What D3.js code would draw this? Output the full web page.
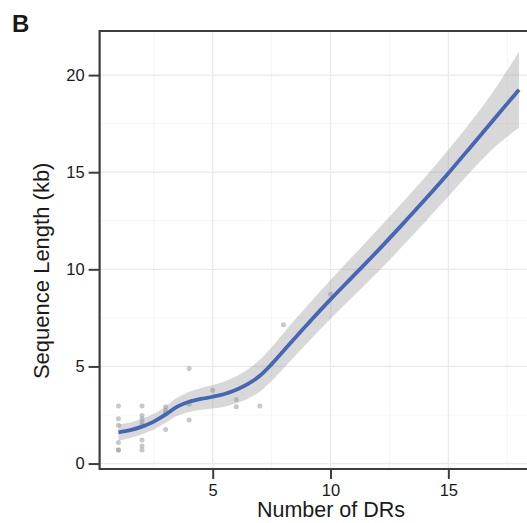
<!DOCTYPE html>
<html>
<head>
<meta charset="utf-8">
<script src="https://cdn.jsdelivr.net/npm/d3@7"></script>
<style>
  html, body { margin: 0; padding: 0; background: #ffffff; }
  svg { display: block; }
  text { font-family: "Liberation Sans", Arial, Helvetica, sans-serif; fill: #1a1a1a; }
</style>
</head>
<body>
<svg id="chart" width="527" height="523"></svg>
<script>
// ---- data ----
const pointX = [1,1,1,1,1,1, 2,2,2,2,2,2,2,2, 3,3,3,3, 4,4,4, 5, 6,6, 7, 8, 10];
const pointY = [2.96,2.31,1.97,1.09,0.70,0.70, 2.96,2.48,2.31,2.14,1.97,1.21,0.90,0.70, 2.92,2.75,2.62,1.76, 4.90,3.05,2.24, 3.78, 3.30,2.92, 2.96, 7.15, 8.73];

const fitX  = [1, 1.5, 2, 2.5, 3, 3.5, 4, 4.5, 5, 5.5, 6, 6.5, 7, 7.5, 8, 9, 10, 11, 12, 13, 14, 15, 16, 17, 18];
const fitY  = [1.61, 1.72, 1.90, 2.16, 2.52, 2.93, 3.18, 3.33, 3.44, 3.58, 3.80, 4.10, 4.52, 5.12, 5.80, 7.15, 8.45, 9.70, 10.95, 12.25, 13.58, 14.95, 16.38, 17.82, 19.25];
const fitSE = [0.42, 0.40, 0.39, 0.40, 0.42, 0.47, 0.52, 0.56, 0.60, 0.65, 0.70, 0.76, 0.82, 0.87, 0.91, 0.96, 1.00, 1.05, 1.10, 1.13, 1.15, 1.20, 1.28, 1.50, 1.95];

const xTicks = [5, 10, 15];
const yTicks = [0, 5, 10, 15, 20];
const xMinor = [2.5, 7.5, 12.5, 17.5];
const yMinor = [2.5, 7.5, 12.5, 17.5];

const panelLabel = "B";
const xTitle = "Number of DRs";
const yTitle = "Sequence Length (kb)";

// ---- layout ----
const svg = d3.select("#chart");
const pL = 99.6, pR = 537.9, pT = 31, pB = 469;

const x = d3.scaleLinear().domain([0.2, 18.8]).range([pL, pR]);
const y = d3.scaleLinear().domain([-0.28, 22.27]).range([pB, pT]);

svg.append("defs").append("clipPath").attr("id", "clip")
  .append("rect").attr("x", pL).attr("y", pT).attr("width", pR - pL).attr("height", pB - pT);

const panel = svg.append("g").attr("clip-path", "url(#clip)");

// grid
panel.selectAll("line.xminor").data(xMinor).join("line")
  .attr("x1", d => x(d)).attr("x2", d => x(d)).attr("y1", pT).attr("y2", pB)
  .attr("stroke", "#f1f2f5").attr("stroke-width", 0.8);
panel.selectAll("line.yminor").data(yMinor).join("line")
  .attr("y1", d => y(d)).attr("y2", d => y(d)).attr("x1", pL).attr("x2", pR)
  .attr("stroke", "#f1f2f5").attr("stroke-width", 0.8);
panel.selectAll("line.xmajor").data(xTicks).join("line")
  .attr("x1", d => x(d)).attr("x2", d => x(d)).attr("y1", pT).attr("y2", pB)
  .attr("stroke", "#e7e9ee").attr("stroke-width", 1.3);
panel.selectAll("line.ymajor").data(yTicks).join("line")
  .attr("y1", d => y(d)).attr("y2", d => y(d)).attr("x1", pL).attr("x2", pR)
  .attr("stroke", "#e7e9ee").attr("stroke-width", 1.3);

// points
panel.selectAll("circle.pt").data(pointX.map((d, i) => [d, pointY[i]])).join("circle")
  .attr("cx", d => x(d[0])).attr("cy", d => y(d[1])).attr("r", 2.5)
  .attr("fill", "#9a9a9a").attr("fill-opacity", 0.55);

// ribbon
const fit = fitX.map((d, i) => ({x: d, y: fitY[i], lo: fitY[i] - fitSE[i], hi: fitY[i] + fitSE[i]}));
panel.append("path").datum(fit)
  .attr("d", d3.area().x(d => x(d.x)).y0(d => y(d.lo)).y1(d => y(d.hi)).curve(d3.curveCatmullRom))
  .attr("fill", "#999999").attr("fill-opacity", 0.38);

// line
panel.append("path").datum(fit)
  .attr("d", d3.line().x(d => x(d.x)).y(d => y(d.y)).curve(d3.curveCatmullRom))
  .attr("fill", "none").attr("stroke", "#4565b5").attr("stroke-width", 3.8);

// axes
const xAxis = svg.append("g").attr("transform", `translate(0,${pB})`)
  .call(d3.axisBottom(x).tickValues(xTicks).tickSize(10).tickPadding(5).tickFormat(d3.format("d")));
const yAxis = svg.append("g").attr("transform", `translate(${pL},0)`)
  .call(d3.axisLeft(y).tickValues(yTicks).tickSize(11).tickPadding(4).tickFormat(d3.format("d")));
[xAxis, yAxis].forEach(g => {
  g.select(".domain").remove();
  g.selectAll(".tick line").attr("stroke", "#3d3d3d").attr("stroke-width", 2);
  g.selectAll(".tick text").attr("font-family", "Liberation Sans, Arial, sans-serif")
    .attr("font-size", 16.5).attr("fill", "#1a1a1a");
});

// panel border (left, bottom, top)
svg.append("path")
  .attr("d", `M${pR + 5},${pT}H${pL}V${pB}H${pR + 5}`)
  .attr("fill", "none").attr("stroke", "#3d3d3d").attr("stroke-width", 2.2);

// titles
svg.append("text").attr("x", 331).attr("y", 517).attr("text-anchor", "middle")
  .attr("font-size", 21.5).text(xTitle);
svg.append("text").attr("transform", "translate(48.5,270.8) rotate(-90)").attr("text-anchor", "middle")
  .attr("font-size", 22).text(yTitle);
svg.append("text").attr("x", 12).attr("y", 32).attr("font-size", 24).attr("font-weight", "bold")
  .attr("fill", "#000").text(panelLabel);
</script>
</body>
</html>
